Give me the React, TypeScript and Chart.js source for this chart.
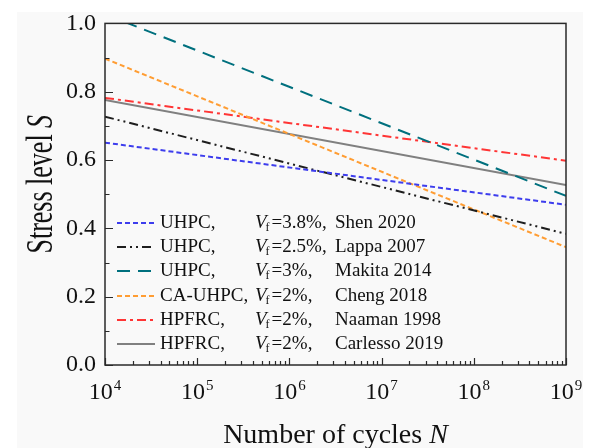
import React, { useEffect, useRef } from "react";
import { Chart, registerables } from "chart.js";

Chart.register(...registerables);

// Fatigue life range (number of cycles N) spanned by every S-N line
const cycleRange = [1e4, 1e9];

// Stress level S at N = 1e4 and N = 1e9 for each S-N relation
const shen2020 = [0.651, 0.469];
const lappa2007 = [0.727, 0.384];
const makita2014 = [1.027, 0.495];
const cheng2018 = [0.897, 0.345];
const naaman1998 = [0.782, 0.598];
const carlesso2019 = [0.776, 0.527];

// Legend columns
const materials = ["UHPC,", "UHPC,", "UHPC,", "CA-UHPC,", "HPFRC,", "HPFRC,"];
const fibreContents = ["=3.8%,", "=2.5%,", "=3%,", "=2%,", "=2%,", "=2%,"];
const sources = ["Shen 2020", "Lappa 2007", "Makita 2014", "Cheng 2018", "Naaman 1998", "Carlesso 2019"];

// Axis ticks
const xExponents = [4, 5, 6, 7, 8, 9];
const yMajorTicks = [0, 0.2, 0.4, 0.6, 0.8, 1.0];
const yMinorTicks = [0.1, 0.3, 0.5, 0.7, 0.9];

const SERIF = "'Liberation Serif', 'Times New Roman', serif";

const seriesValues = [shen2020, lappa2007, makita2014, cheng2018, naaman1998, carlesso2019];
const seriesStyles = [
  { color: "#3d3ded", dash: [5, 3] },
  { color: "#1e1e1e", dash: [9, 4, 2, 4, 2, 4] },
  { color: "#00707e", dash: [13, 8] },
  { color: "#ff9d33", dash: [5, 3] },
  { color: "#ff3535", dash: [9, 4, 3, 4] },
  { color: "#808080", dash: [] as number[] },
];

const decoration = {
  id: "decoration",
  afterDraw(chart: any) {
    const ctx: CanvasRenderingContext2D = chart.ctx;
    const { left, right, top, bottom } = chart.chartArea;
    const xs = chart.scales.x;
    const ys = chart.scales.y;
    ctx.save();

    // frame
    ctx.strokeStyle = "#2a2a2a";
    ctx.lineWidth = 1.5;
    ctx.setLineDash([]);
    ctx.strokeRect(left, top, right - left, bottom - top);

    // inward ticks on the y axis
    ctx.lineWidth = 1.2;
    ctx.beginPath();
    for (const v of yMajorTicks) {
      const py = Math.round(ys.getPixelForValue(v)) + 0.5;
      ctx.moveTo(left, py);
      ctx.lineTo(left + 8, py);
    }
    for (const v of yMinorTicks) {
      const py = Math.round(ys.getPixelForValue(v)) + 0.5;
      ctx.moveTo(left, py);
      ctx.lineTo(left + 4.5, py);
    }
    // inward ticks on the x axis
    for (let i = 0; i < xExponents.length; i++) {
      const e = xExponents[i];
      const px = Math.round(xs.getPixelForValue(Math.pow(10, e))) + 0.5;
      ctx.moveTo(px, bottom);
      ctx.lineTo(px, bottom - 7);
      if (i < xExponents.length - 1) {
        for (let m = 2; m <= 9; m++) {
          const mx = Math.round(xs.getPixelForValue(m * Math.pow(10, e))) + 0.5;
          ctx.moveTo(mx, bottom);
          ctx.lineTo(mx, bottom - 4);
        }
      }
    }
    ctx.stroke();

    // x tick labels: 10^n
    ctx.fillStyle = "#111";
    ctx.textBaseline = "alphabetic";
    ctx.textAlign = "left";
    for (const e of xExponents) {
      const px = xs.getPixelForValue(Math.pow(10, e));
      ctx.font = `24px ${SERIF}`;
      const wBase = ctx.measureText("10").width;
      ctx.font = `15px ${SERIF}`;
      const wSup = ctx.measureText(String(e)).width;
      const start = px - (wBase + wSup + 1) / 2;
      ctx.font = `24px ${SERIF}`;
      ctx.fillText("10", start, bottom + 34);
      ctx.font = `15px ${SERIF}`;
      ctx.fillText(String(e), start + wBase + 1, bottom + 25);
    }

    // x axis title
    ctx.font = `28px ${SERIF}`;
    const xt1 = "Number of cycles ";
    const w1 = ctx.measureText(xt1).width;
    ctx.font = `italic 28px ${SERIF}`;
    const w2 = ctx.measureText("N").width;
    const cx = (left + right) / 2;
    ctx.font = `28px ${SERIF}`;
    ctx.fillText(xt1, cx - (w1 + w2) / 2, 443);
    ctx.font = `italic 28px ${SERIF}`;
    ctx.fillText("N", cx - (w1 + w2) / 2 + w1, 443);

    // y axis title (rotated, glyphs stretched across the axis)
    ctx.save();
    ctx.translate(52, (top + bottom) / 2 - 10);
    ctx.rotate(-Math.PI / 2);
    ctx.scale(1, 1.45);
    ctx.font = `26px ${SERIF}`;
    const yt1 = "Stress level ";
    const v1 = ctx.measureText(yt1).width;
    ctx.font = `italic 26px ${SERIF}`;
    const v2 = ctx.measureText("S").width;
    ctx.font = `26px ${SERIF}`;
    ctx.fillText(yt1, -(v1 + v2) / 2, 0);
    ctx.font = `italic 26px ${SERIF}`;
    ctx.fillText("S", -(v1 + v2) / 2 + v1, 0);
    ctx.restore();

    // legend
    const rowY = [223, 247, 271, 296, 320, 344];
    ctx.textBaseline = "middle";
    for (let i = 0; i < sources.length; i++) {
      const y = rowY[i];
      const st = seriesStyles[i];
      ctx.strokeStyle = st.color;
      ctx.lineWidth = 2;
      ctx.setLineDash(st.dash);
      ctx.beginPath();
      ctx.moveTo(117, y);
      ctx.lineTo(155, y);
      ctx.stroke();
      ctx.setLineDash([]);

      ctx.fillStyle = "#111";
      ctx.font = `19px ${SERIF}`;
      ctx.fillText(materials[i], 160, y);
      ctx.font = `italic 19px ${SERIF}`;
      ctx.fillText("V", 255, y);
      const wv = ctx.measureText("V").width;
      ctx.font = `12px ${SERIF}`;
      const fx = 255 + wv - 1;
      ctx.fillText("f", fx, y + 5);
      const wf = ctx.measureText("f").width;
      ctx.font = `19px ${SERIF}`;
      ctx.fillText(fibreContents[i], fx + wf + 2, y);
      ctx.fillText(sources[i], 335, y);
    }

    ctx.restore();
  },
};

export default function App() {
  const canvasRef = useRef<HTMLCanvasElement | null>(null);

  useEffect(() => {
    if (!canvasRef.current) return;
    const datasets = seriesValues.map((vals, i) => ({
      label: sources[i],
      data: cycleRange.map((n, j) => ({ x: n, y: vals[j] })),
      borderColor: seriesStyles[i].color,
      backgroundColor: seriesStyles[i].color,
      borderDash: seriesStyles[i].dash,
      borderWidth: 2,
      pointRadius: 0,
      fill: false,
      tension: 0,
      clip: 0,
    }));

    const chart = new Chart(canvasRef.current, {
      type: "line",
      data: { datasets },
      options: {
        animation: false,
        responsive: true,
        maintainAspectRatio: false,
        layout: { padding: { top: 22, right: 24, left: 0, bottom: 0 } },
        plugins: { legend: { display: false }, tooltip: { enabled: false } },
        scales: {
          x: {
            type: "logarithmic",
            min: cycleRange[0],
            max: cycleRange[1],
            grid: { display: false, drawTicks: false },
            border: { display: false },
            ticks: { display: false },
            afterFit: (scale: any) => {
              scale.height = 83;
            },
          },
          y: {
            type: "linear",
            min: 0,
            max: 1,
            grid: { display: false, drawTicks: false },
            border: { display: false },
            ticks: {
              stepSize: 0.2,
              padding: 9,
              color: "#111",
              font: { family: SERIF, size: 24 },
              callback: (v: any) => Number(v).toFixed(1),
            },
            afterFit: (scale: any) => {
              scale.width = 105;
            },
          },
        },
      },
      plugins: [decoration],
    } as any);

    return () => chart.destroy();
  }, []);

  return (
    <div style={{ position: "fixed", left: 0, top: 0, width: 590, height: 448, background: "#ffffff" }}>
      <div style={{ position: "absolute", left: 17, top: 12, width: 566, height: 436, background: "#f9f9f9" }} />
      <div style={{ position: "absolute", left: 0, top: 0, width: 590, height: 448 }}>
        <canvas ref={canvasRef} />
      </div>
    </div>
  );
}
